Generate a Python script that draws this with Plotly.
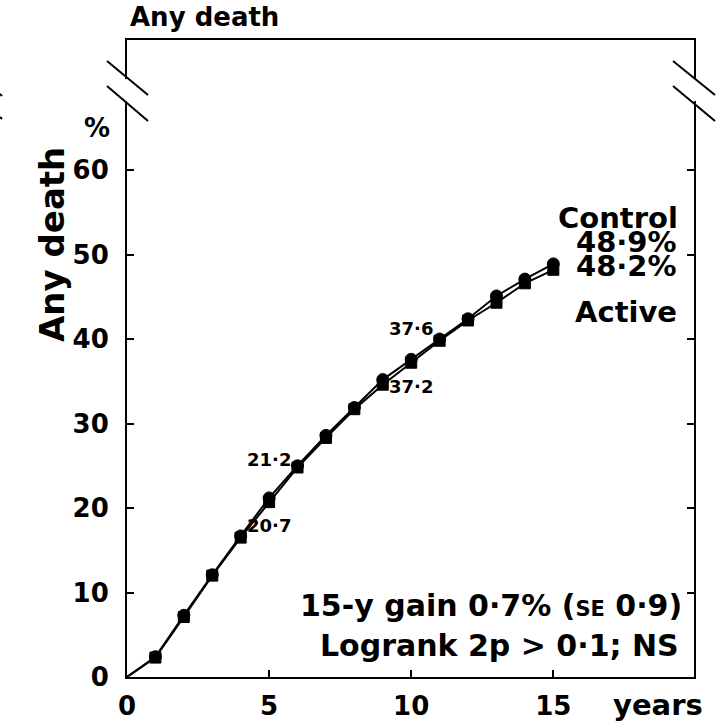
import plotly.graph_objects as go

years = list(range(0, 16))
control = [0, 2.4, 7.3, 12.1, 16.7, 21.2, 25.0, 28.6, 31.9, 35.2, 37.6, 40.0, 42.4, 45.1, 47.1, 48.9]
active = [0, 2.3, 7.1, 12.0, 16.5, 20.7, 24.8, 28.3, 31.7, 34.6, 37.2, 39.8, 42.2, 44.3, 46.6, 48.2]
x_ticks = [0, 5, 10, 15]
y_ticks = [0, 10, 20, 30, 40, 50, 60]

W, H = 720, 725
L, R, T, B = 127, 694, 40, 677
FONT = "DejaVu Sans, Liberation Sans, Arial, sans-serif"

fig = go.Figure()
fig.add_trace(go.Scatter(
    x=years, y=control, mode="lines+markers", name="Control",
    line=dict(color="black", width=2),
    marker=dict(symbol="circle", size=[0] + [12] * 15, color="black", opacity=1,
                line=dict(width=1, color="black")),
    cliponaxis=False))
fig.add_trace(go.Scatter(
    x=years, y=active, mode="lines+markers", name="Active",
    line=dict(color="black", width=2),
    marker=dict(symbol="square", size=[0] + [11] * 15, color="black", opacity=1,
                line=dict(width=1, color="black")),
    cliponaxis=False))

def px2paper(px, py):
    return (px - L) / (R - L), (B - py) / (B - T)

shapes = []
def seg(x0, y0, x1, y1, color="black", width=2):
    a0, b0 = px2paper(x0, y0)
    a1, b1 = px2paper(x1, y1)
    shapes.append(dict(type="line", xref="paper", yref="paper", x0=a0, y0=b0, x1=a1, y1=b1,
                       line=dict(color=color, width=width), layer="above"))

# gaps in the vertical axes for the break
seg(L, 79, L, 101, "white", 4)
seg(R, 79, R, 101, "white", 4)
# break marks
seg(107, 61, 148, 95)
seg(107, 86, 148, 121)
seg(673, 61, 715, 95)
seg(673, 86, 715, 121)
# cut-off marks at far left
seg(0, 94, 2, 96)
seg(0, 117, 2, 119)

annotations = []
def ann(text, x, y, size, xanchor="center", xref="x", yref="y", textangle=0):
    annotations.append(dict(text=text, x=x, y=y, xref=xref, yref=yref, showarrow=False,
                            xanchor=xanchor, yanchor="middle", textangle=textangle,
                            font=dict(family=FONT, size=size, color="black", weight="bold")))

def pann(text, px, py, size, xanchor="center", textangle=0):
    a, b = px2paper(px, py)
    ann(text, a, b, size, xanchor, "paper", "paper", textangle)

ann("37·6", 10.0, 41.3, 18)
ann("37·2", 10.0, 34.4, 18)
ann("21·2", 5.0, 25.7, 18)
ann("20·7", 5.0, 17.9, 18)
ann("Control", 19.45, 54.3, 29, "right")
ann("48·9%", 19.42, 51.5, 29, "right")
ann("48·2%", 19.42, 48.7, 29, "right")
ann("Active", 19.42, 43.2, 29, "right")
ann("15-y gain 0·7% (<span style='font-size:21px'>SE</span> 0·9)", 19.6, 8.5, 30, "right")
ann("Logrank 2p > 0·1; NS", 19.5, 3.75, 30, "right")
pann("years", 658, 705, 29)
pann("%", 97, 128, 26)
pann("Any death", 128, 17, 26, "left")
pann("Any death", 52, 245, 34, "center", -90)

fig.update_layout(
    width=W, height=H,
    margin=dict(l=L, r=W - R, t=T, b=H - B, pad=0, autoexpand=False),
    paper_bgcolor="white", plot_bgcolor="white",
    showlegend=False,
    shapes=shapes, annotations=annotations,
    font=dict(family=FONT, size=26, color="black", weight="bold"),
    xaxis=dict(range=[0, 19.95], tickvals=x_ticks, ticktext=[str(v) for v in x_ticks],
               ticks="inside", ticklen=7, tickwidth=2, tickcolor="black",
               showline=True, linecolor="black", linewidth=2, mirror=True,
               showgrid=False, zeroline=False, ticklabelstandoff=5, automargin=False,
               tickfont=dict(family=FONT, size=26, color="black", weight="bold")),
    yaxis=dict(range=[0, 75.4], tickvals=y_ticks, ticktext=[str(v) for v in y_ticks],
               ticks="inside", ticklen=7, tickwidth=2, tickcolor="black",
               showline=True, linecolor="black", linewidth=2, mirror="ticks",
               showgrid=False, zeroline=False, ticklabelstandoff=11, automargin=False,
               tickfont=dict(family=FONT, size=26, color="black", weight="bold")),
)

fig.write_html("out.html", config={"displayModeBar": False},
               post_script="document.body.style.margin='0';")
